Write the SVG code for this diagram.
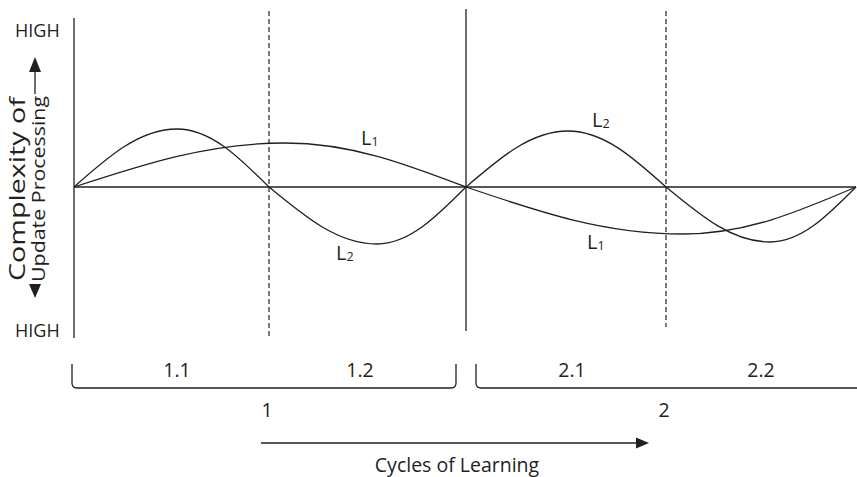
<svg xmlns="http://www.w3.org/2000/svg" width="857" height="477" viewBox="0 0 857 477">
<defs>
<style>
.ln{stroke:#231f20;stroke-width:1.3;fill:none}
.dash{stroke:#231f20;stroke-width:1.2;fill:none;stroke-dasharray:5,3}
.t{font-family:"Open Sans","Liberation Sans",sans-serif;font-size:19.5px;fill:#231f20}
.h{font-size:18px}
.v1{font-size:21px}
.v2{font-size:18px}
.lb{font-family:"Open Sans","Liberation Sans",sans-serif;font-size:20px;fill:#231f20}
.sub{font-size:12.5px}
.ah{fill:#231f20}
</style>
</defs>
<rect width="857" height="477" fill="#fff"/>
<g id="axes">
<line class="ln" x1="74" y1="18" x2="74" y2="338"/>
<line class="ln" x1="74" y1="187" x2="856" y2="187"/>
<line class="ln" x1="466" y1="9" x2="466" y2="331"/>
<line class="dash" x1="269" y1="11" x2="269" y2="338"/>
<line class="dash" x1="666" y1="11" x2="666" y2="327"/>
</g>
<g id="connectors">
<path id="L2" class="ln" d="M74,187 C108.4,156.5 139.6,129 177,129 C210.4,129 238.2,156.5 269,187 C305.1,216.9 337.8,244 377,244 C409.3,244 436.2,216.9 466,187 C500.1,157.6 530.9,131 568,131 C603.6,131 633.2,157.6 666,187 C700.8,215.9 732.2,242 770,242 C801.3,242 827.3,215.9 856,187"/>
<path id="L1" class="ln" d="M74,187 C144.5,163.9 208.3,143 285,143 C350.8,143 405.5,163.9 466,187 C538.5,211.7 604.1,234 683,234 C745.9,234 798.2,211.7 856,187"/>
<line class="ln" x1="35" y1="70" x2="35" y2="94"/>
<polygon class="ah" points="35,57 29,72 41,72"/>
<polygon class="ah" points="35,298 29,284 41,284"/>
<line class="ln" x1="261" y1="443" x2="638" y2="443"/>
<polygon class="ah" points="649,443 636,437.5 636,448.5"/>
<path class="ln" d="M72,364 L72,383 Q72,388 77,388 L451,388 Q456,388 456,383 L456,364"/>
<path class="ln" d="M476,364 L476,383 Q476,388 481,388 L857,388"/>
</g>
<g id="labels">
<text class="t h" x="15" y="37">HIGH</text>
<text class="t h" x="15" y="337">HIGH</text>
<text class="t v1" transform="translate(25,97) rotate(-90)" text-anchor="end" textLength="184" lengthAdjust="spacingAndGlyphs">Complexity of</text>
<text class="t v2" transform="translate(45,96) rotate(-90)" text-anchor="end" textLength="186" lengthAdjust="spacingAndGlyphs">Update Processing</text>
<text class="lb" x="361" y="145">L<tspan class="sub" dy="1">1</tspan></text>
<text class="lb" x="336" y="260">L<tspan class="sub" dy="1">2</tspan></text>
<text class="lb" x="592" y="127">L<tspan class="sub" dy="1">2</tspan></text>
<text class="lb" x="587" y="249">L<tspan class="sub" dy="1">1</tspan></text>
<text class="t" x="177" y="377" text-anchor="middle">1.1</text>
<text class="t" x="360" y="377" text-anchor="middle">1.2</text>
<text class="t" x="572" y="377" text-anchor="middle">2.1</text>
<text class="t" x="761" y="377" text-anchor="middle">2.2</text>
<text class="t" x="267" y="417" text-anchor="middle">1</text>
<text class="t" x="664" y="417" text-anchor="middle">2</text>
<text class="t" x="457" y="472" text-anchor="middle">Cycles of Learning</text>
</g>
</svg>
